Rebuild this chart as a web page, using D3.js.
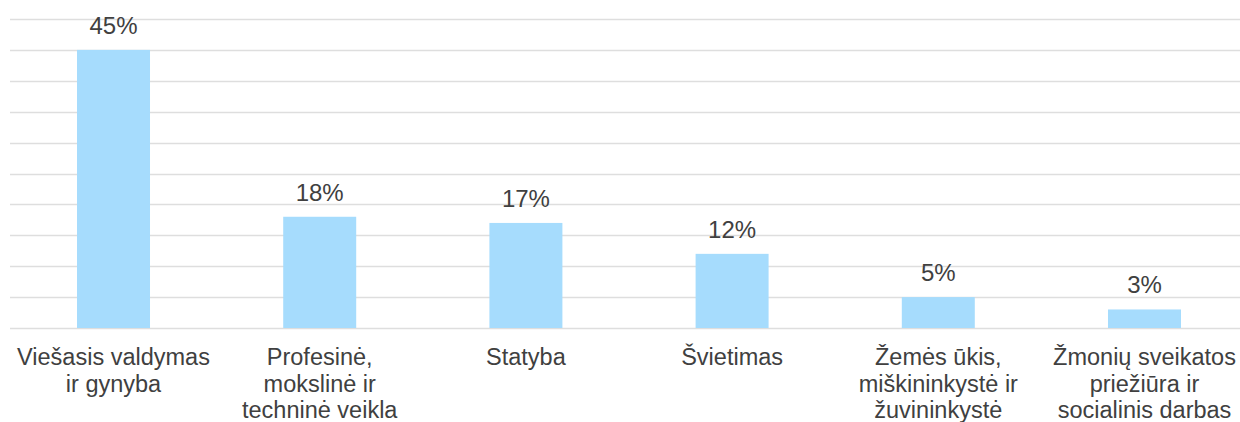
<!DOCTYPE html>
<html>
<head>
<meta charset="utf-8">
<script src="https://cdn.jsdelivr.net/npm/d3@7"></script>
<style>
  body { margin: 0; background: #fff; }
  svg { display: block; }
  text { font-family: "Liberation Sans", Arial, sans-serif; fill: #404040; }
</style>
</head>
<body>
<svg id="chart" width="1240" height="422"></svg>
<script>
// categories (line breaks as in the source chart)
var categories = [
    "Viešasis valdymas\nir gynyba",
    "Profesinė,\nmokslinė ir\ntechninė veikla",
    "Statyba",
    "Švietimas",
    "Žemės ūkis,\nmiškininkystė ir\nžuvininkystė",
    "Žmonių sveikatos\npriežiūra ir\nsocialinis darbas"
];
var values = [45, 18, 17, 12, 5, 3];
var gridTicks = [0, 5, 10, 15, 20, 25, 30, 35, 40, 45, 50];

var plotLeft = 10, plotRight = 1240, plotTop = 19, plotBottom = 328;

var svg = d3.select("#chart");

// band range runs a little past the right edge, as the source does
var x = d3.scaleBand()
    .domain(categories)
    .range([plotLeft, 1248])
    .paddingInner(0.646)
    .paddingOuter(0.325);

var y = d3.scaleLinear()
    .domain([0, 50])
    .range([plotBottom, plotTop]);

// grid lines
svg.selectAll(".grid")
    .data(gridTicks)
    .enter()
    .append("line")
    .attr("class", "grid")
    .attr("x1", plotLeft)
    .attr("x2", plotRight)
    .attr("y1", function(d) { return Math.round(y(d)) + 0.5; })
    .attr("y2", function(d) { return Math.round(y(d)) + 0.5; })
    .attr("stroke", "#dedede")
    .attr("stroke-width", 1.6);

// bars
svg.selectAll(".bar")
    .data(values)
    .enter()
    .append("rect")
    .attr("class", "bar")
    .attr("x", function(d, i) { return x(categories[i]); })
    .attr("y", function(d) { return y(d); })
    .attr("width", x.bandwidth())
    .attr("height", function(d) { return y(0) - y(d); })
    .attr("fill", "#a6dcfd");

// value labels
svg.selectAll(".val")
    .data(values)
    .enter()
    .append("text")
    .attr("class", "val")
    .attr("x", function(d, i) { return x(categories[i]) + x.bandwidth() / 2; })
    .attr("y", function(d) { return y(d) - 16; })
    .attr("text-anchor", "middle")
    .style("font-size", "24px")
    .text(function(d) { return d + "%"; });

// category labels
var cat = svg.selectAll(".cat")
    .data(categories)
    .enter()
    .append("text")
    .attr("class", "cat")
    .attr("text-anchor", "middle")
    .attr("transform", function(d) {
        return "translate(" + (x(d) + x.bandwidth() / 2) + "," + (plotBottom + 37) + ")";
    })
    .style("font-size", "23.5px");

cat.selectAll("tspan")
    .data(function(d) { return d.split("\n"); })
    .enter()
    .append("tspan")
    .attr("x", 0)
    .attr("y", function(d, i) { return i * 26.5; })
    .text(function(d) { return d; });
</script>
</body>
</html>
